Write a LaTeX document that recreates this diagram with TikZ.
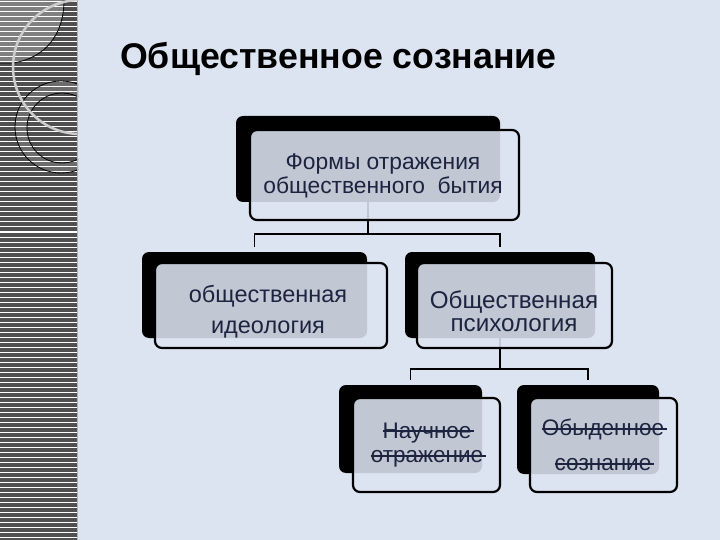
\documentclass[tikz,border=0pt]{standalone}
\usepackage{fontspec}
\setmainfont{Liberation Sans}
\usetikzlibrary{calc}
\newcommand\mystrike[1]{\setbox0\hbox{#1}\rlap{\rule[0.27em]{\dimexpr\wd0+3pt\relax}{1.6pt}}\box0}
\definecolor{bgc}{RGB}{220,227,241}
\definecolor{bandc}{RGB}{80,80,80}
\definecolor{sqc}{RGB}{128,128,128}
\definecolor{ringc}{RGB}{108,108,108}
\definecolor{txtc}{RGB}{28,36,64}
\tikzset{
  shadowbox/.style={fill=black, rounded corners=7pt, inner sep=0pt},
  frontbox/.style={draw=black, line width=2.2pt, fill=bgc, fill opacity=0.88, rounded corners=7pt, inner sep=0pt},
  boxtext/.style={align=center, text=txtc, inner sep=0pt},
  conn/.style={draw=black, line width=1.8pt},
}
\begin{document}
\begin{tikzpicture}[x=1pt,y=-1pt]
\useasboundingbox (0,0) rectangle (720,540);
\fill[bgc] (0,0) rectangle (720,540);
% left band
\begin{scope}
\clip (0,0) rectangle (78,540);
\fill[bandc] (0,0) rectangle (78,540);
\fill[sqc] (0,0) -- (64,0) .. controls (64,35) and (45,58) .. (13,63) -- (0,63) -- cycle;
\fill[ringc, even odd rule] (61,127) circle[radius=46] (62,128) circle[radius=35];
\foreach \yy in {2,7,...,540} \draw[white, line width=1pt] (0,\yy) -- (78,\yy);
\draw[black, line width=0.8pt] (64,0) .. controls (64,35) and (45,58) .. (13,63) -- (0,63);
\draw[black, line width=0.8pt] (61,127) circle[radius=46] (62,128) circle[radius=35];
\draw[black!20, line width=2.5pt] (80,67) circle[radius=67];
\end{scope}
\draw[black!30, line width=1.2pt] (77.5,0) -- (77.5,540);
% title
\node[anchor=base west, inner sep=0pt, font=\bfseries\fontsize{35.7}{40}\selectfont] (title) at (120,69) {Общественное сознание};
% shadow boxes
\node[shadowbox, minimum width=264, minimum height=86] (s1) at (368,159) {};
\node[shadowbox, minimum width=225, minimum height=86] (s2) at (254.5,295) {};
\node[shadowbox, minimum width=190, minimum height=86] (s3) at (500,295) {};
\node[shadowbox, minimum width=143, minimum height=88] (s4) at (410.5,429) {};
\node[shadowbox, minimum width=142, minimum height=89] (s5) at (588,429.5) {};
% connectors
\coordinate (h1) at (0,234);
\coordinate (h2) at (0,369);
\draw[conn] (s1.south) -- (s1.south |- h1);
\draw[conn] ($(s2.north)+(0,-5)$) |- ($(s3.north |- h1)$) -- ($(s3.north)+(0,-5)$);
\draw[conn] (s3.south) -- (s3.south |- h2);
\draw[conn] ($(s4.north)+(0,-5)$) |- ($(s5.north |- h2)$) -- ($(s5.north)+(0,-5)$);
% front boxes
\node[frontbox, minimum width=269, minimum height=90] (f1) at (384.5,175) {};
\node[frontbox, minimum width=232, minimum height=85] (f2) at (271,305.5) {};
\node[frontbox, minimum width=195, minimum height=85] (f3) at (514.5,305.5) {};
\node[frontbox, minimum width=147, minimum height=94] (f4) at (426.5,445) {};
\node[frontbox, minimum width=147, minimum height=94] (f5) at (603.5,445) {};
% texts
\node[boxtext, font=\fontsize{22.8}{24.5}\selectfont] (t1) at (383,176) {Формы отражения\\общественного\ \ бытия};
\node[boxtext, font=\fontsize{23.5}{31}\selectfont] (t2) at (268,312) {общественная\\идеология};
\node[boxtext, font=\fontsize{24.2}{23.5}\selectfont] (t3) at (514,311) {Общественная\\психология};
\node[boxtext, font=\fontsize{22.5}{24.5}\selectfont] (t4) at (427,445) {\mystrike{Научное}\\\mystrike{отражение}};
\node[boxtext, font=\fontsize{22.5}{35}\selectfont] (t5) at (603,445) {\mystrike{Обыденное}\\\mystrike{сознание}};
\end{tikzpicture}
\end{document}
